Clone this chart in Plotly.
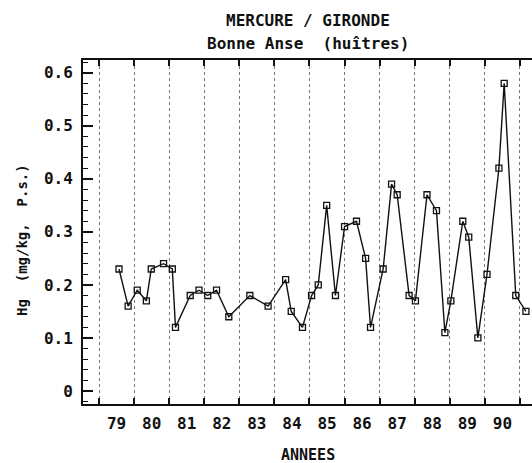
import plotly.graph_objects as go

years = [79.57, 79.83, 80.09, 80.35, 80.49, 80.84, 81.09, 81.18, 81.6, 81.85, 82.1,
         82.35, 82.7, 83.3, 83.82, 84.32, 84.48, 84.8, 85.06, 85.25, 85.49, 85.74,
         86.0, 86.34, 86.6, 86.74, 87.1, 87.34, 87.5, 87.84, 88.02, 88.35, 88.62,
         88.86, 89.03, 89.37, 89.54, 89.8, 90.06, 90.4, 90.55, 90.88, 91.17]
hg = [0.23, 0.16, 0.19, 0.17, 0.23, 0.24, 0.23, 0.12, 0.18, 0.19, 0.18,
      0.19, 0.14, 0.18, 0.16, 0.21, 0.15, 0.12, 0.18, 0.20, 0.35, 0.18,
      0.31, 0.32, 0.25, 0.12, 0.23, 0.39, 0.37, 0.18, 0.17, 0.37, 0.34,
      0.11, 0.17, 0.32, 0.29, 0.10, 0.22, 0.42, 0.58, 0.18, 0.15]
year_labels = ["79", "80", "81", "82", "83", "84", "85", "86", "87", "88", "89", "90"]
year_label_pos = [79.5 + i for i in range(len(year_labels))]
y_ticks = [0, 0.1, 0.2, 0.3, 0.4, 0.5, 0.6]
y_tick_text = ["0", "0.1", "0.2", "0.3", "0.4", "0.5", "0.6"]

FONT = "DejaVu Sans Mono"
XR = [78.544, 91.343]
YR = [-0.0245, 0.624]

fig = go.Figure()
fig.add_trace(go.Scatter(
    x=years, y=hg, mode="lines+markers",
    line=dict(color="#111", width=1.4),
    marker=dict(symbol="square-open", size=6, color="#111", line=dict(width=1.3)),
    showlegend=False,
))
# invisible trace to activate top axis
fig.add_trace(go.Scatter(x=[XR[0]], y=[0], xaxis="x2", mode="markers",
                         marker=dict(opacity=0), showlegend=False, hoverinfo="skip"))

fig.update_layout(
    width=532, height=463,
    margin=dict(l=83, r=0, t=60, b=59, autoexpand=False),
    paper_bgcolor="white", plot_bgcolor="white",
    font=dict(family=FONT, color="#111", size=15),
    xaxis=dict(
        range=XR, tickmode="array", tickvals=year_label_pos, ticktext=year_labels,
        ticks="", showgrid=False, zeroline=False, automargin=False,
        showline=True, linecolor="#111", linewidth=2,
        tickfont=dict(family=FONT, size=16, weight="bold"),
        minor=dict(tick0=79, dtick=1, ticks="inside", ticklen=6, tickwidth=1.5,
                   tickcolor="#111", showgrid=True, gridcolor="#777",
                   griddash="dot", gridwidth=1),
        ticklabelstandoff=4,
    ),
    xaxis2=dict(
        range=XR, overlaying="x", side="top", tickmode="linear", tick0=79, dtick=1,
        ticks="inside", ticklen=6, tickwidth=1.5, tickcolor="#111",
        showticklabels=False, showgrid=False, zeroline=False,
        showline=True, linecolor="#111", linewidth=2,
    ),
    yaxis=dict(
        range=YR, tickmode="array", tickvals=y_ticks, ticktext=y_tick_text,
        ticks="inside", ticklen=10, tickwidth=1.5, tickcolor="#111",
        showgrid=False, zeroline=False, automargin=False,
        showline=True, linecolor="#111", linewidth=2,
        tickfont=dict(family=FONT, size=16, weight="bold"),
        minor=dict(tick0=0, dtick=0.02, ticks="inside", ticklen=5, tickwidth=1.2,
                   tickcolor="#111", showgrid=False),
        ticklabelstandoff=5,
    ),
    annotations=[
        dict(text="MERCURE / GIRONDE", xref="paper", yref="paper", x=0.5, y=1,
             xanchor="center", yanchor="middle", yshift=40, showarrow=False,
             font=dict(family=FONT, size=16, weight="bold")),
        dict(text="Bonne Anse\u00a0\u00a0(huîtres)", xref="paper", yref="paper", x=0.5, y=1,
             xanchor="center", yanchor="middle", yshift=17, showarrow=False,
             font=dict(family=FONT, size=16, weight="bold")),
        dict(text="ANNEES", xref="paper", yref="paper", x=0.5, y=0,
             xanchor="center", yanchor="middle", yshift=-51, showarrow=False,
             font=dict(family=FONT, size=15, weight="bold")),
        dict(text="Hg\u00a0\u00a0(mg/kg,\u00a0\u00a0P.s.)", xref="paper", yref="paper", x=0, y=0.5,
             xanchor="center", yanchor="middle", xshift=-61, yshift=-8, textangle=-90,
             showarrow=False, font=dict(family=FONT, size=14, weight="bold")),
    ],
)

fig.write_html("out.html", config={"displayModeBar": False},
               post_script="document.body.style.margin='0';")
